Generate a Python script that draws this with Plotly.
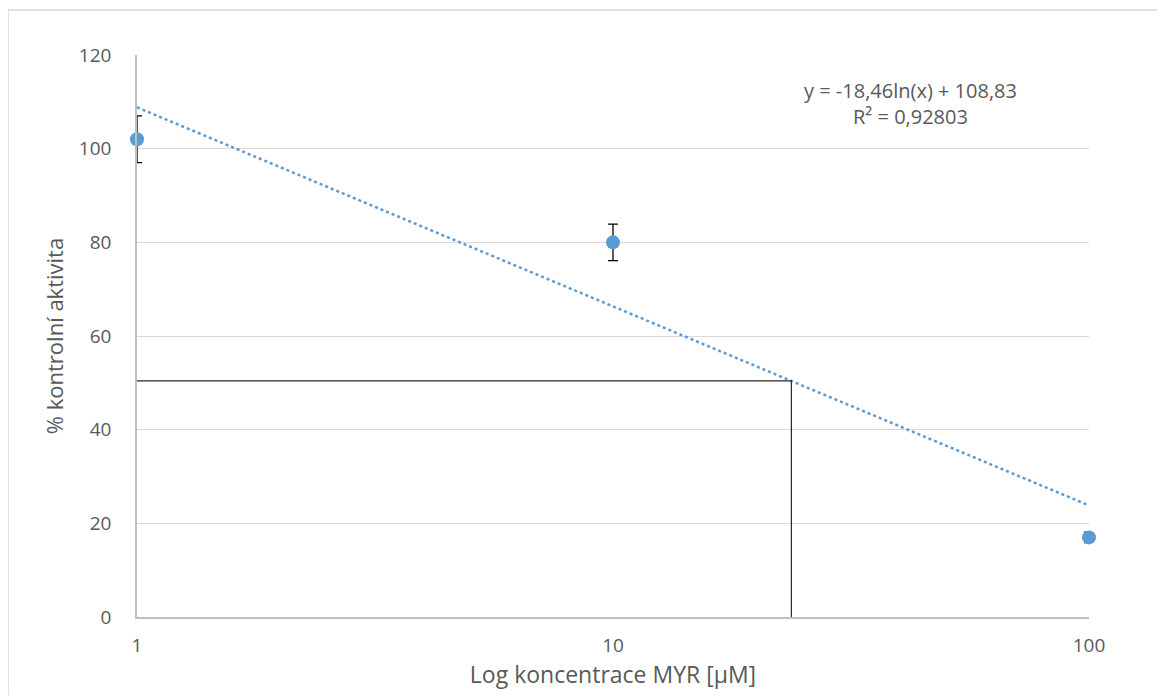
import plotly.graph_objects as go

# Data
conc = [1, 10, 100]
activity = [102, 80, 17]
err = [5, 3.9, 1.1]

trend_x = [1, 100]
trend_y = [108.83, 23.82]

ic50_x = 23.7
ic50_y = 50.4

x_ticks = [1, 10, 100]
y_ticks = [0, 20, 40, 60, 80, 100, 120]

BLUE = "#5b9bd5"
TXT = "#595959"
FONT = "Open Sans"

fig = go.Figure()

# trendline
fig.add_trace(go.Scatter(x=trend_x, y=trend_y, mode="lines",
                         line=dict(color=BLUE, width=2.5, dash="dot"),
                         hoverinfo="skip", showlegend=False))

# IC50 guide lines
fig.add_trace(go.Scatter(x=[conc[0], ic50_x, ic50_x], y=[ic50_y, ic50_y, 0], mode="lines",
                         line=dict(color="#262626", width=1.2),
                         hoverinfo="skip", showlegend=False))

# error bars (clipped to plot area)
fig.add_trace(go.Scatter(x=conc, y=activity, mode="markers",
                         marker=dict(size=1, color="rgba(0,0,0,0)"),
                         error_y=dict(type="data", array=err, color="#000000",
                                      thickness=1.3, width=5),
                         cliponaxis=True, showlegend=False, hoverinfo="skip"))

# markers
fig.add_trace(go.Scatter(x=conc, y=activity, mode="markers",
                         marker=dict(size=14, color=BLUE),
                         cliponaxis=False, showlegend=False))

fig.add_annotation(xref="paper", yref="paper", x=0.812, y=0.914,
                   text="y = -18,46ln(x) + 108,83<br>R² = 0,92803",
                   showarrow=False, align="center", xanchor="center", yanchor="middle",
                   font=dict(family=FONT, size=20, color=TXT))

# outer chart border
fig.add_shape(type="rect", xref="paper", yref="paper",
              x0=-0.1355, x1=1.2, y0=-0.3, y1=1.080,
              line=dict(color="#d9d9d9", width=1.5), layer="below")

fig.update_layout(
    width=1165, height=695,
    margin=dict(l=129, r=84, t=47, b=86),
    paper_bgcolor="white", plot_bgcolor="white",
    font=dict(family=FONT, color=TXT, size=19),
    showlegend=False,
    xaxis=dict(type="log", range=[0, 2], tickvals=x_ticks,
               ticktext=[str(v) for v in x_ticks],
               showgrid=False, zeroline=False,
               showline=True, linecolor="#bfbfbf", linewidth=1.5,
               ticks="", ticklabelstandoff=10,
               title=dict(text="Log koncentrace MYR [μM]", font=dict(size=23, color=TXT),
                          standoff=10)),
    yaxis=dict(range=[0, 120], tickvals=y_ticks,
               showgrid=True, gridcolor="#d9d9d9", gridwidth=1.3,
               zeroline=False, showline=True, linecolor="#bfbfbf", linewidth=1.5,
               ticks="", ticklabelstandoff=20,
               title=dict(text="% kontrolní aktivita", font=dict(size=22, color=TXT),
                          standoff=9)),
)

fig.write_html("out.html")
